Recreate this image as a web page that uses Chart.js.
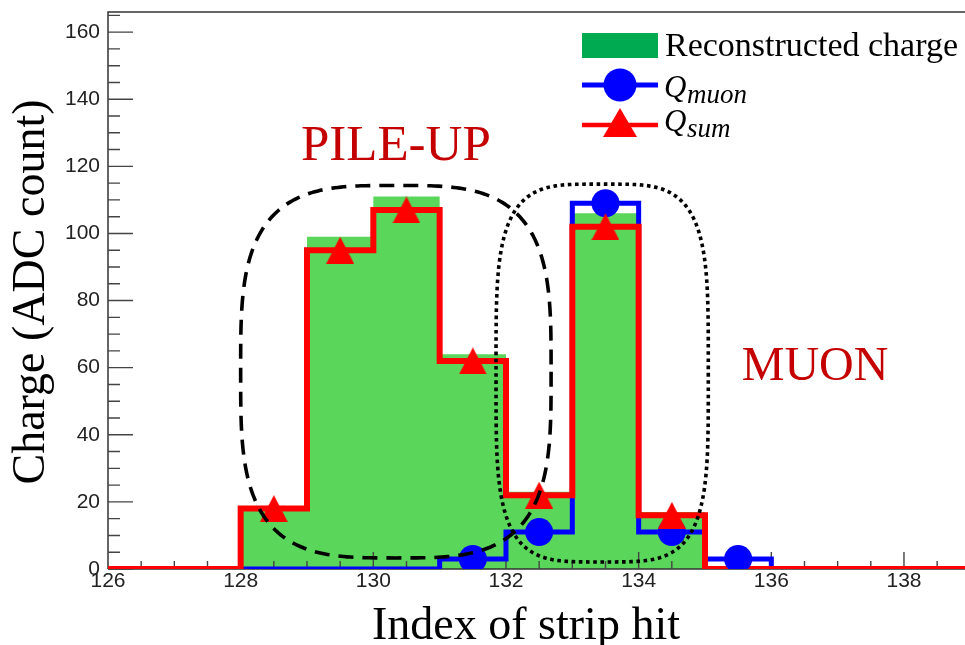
<!DOCTYPE html>
<html><head><meta charset="utf-8">
<script src="https://cdn.jsdelivr.net/npm/chart.js@4.4.0/dist/chart.umd.min.js"></script>
<style>html,body{margin:0;padding:0;background:#fff;overflow:hidden;}#wrap{width:965px;height:645px;}</style>
</head><body><div id="wrap"><canvas id="c" width="965" height="645"></canvas></div>
<script>
// ---- data ----
const binEdges   = [126,127,128,129,130,131,132,133,134,135,136,137,138,139];
const recoCharge = [0,0,18,99,111,64,23,106,17,0,0,0,0];
const qMuon      = [0,0,0,0,0,3,11,109,11,3,0,0,0];
const qSum       = [0,0,18,95,107,62,22,102,16,0,0,0,0];
const xTickValues = [126,128,130,132,134,136,138];
const yTickValues = [0,20,40,60,80,100,120,140,160];
const legendLabels = ['Reconstructed charge', 'Q', 'muon', 'Q', 'sum'];
const xTitle = 'Index of strip hit';
const yTitle = 'Charge (ADC count)';
const regionLabels = ['PILE-UP', 'MUON'];

// ---- helpers ----
function stepPoints(vals){
  return binEdges.map((e,i)=>({x:e, y: i<vals.length ? vals[i] : 0}));
}
function markerPoints(vals){
  const out=[];
  vals.forEach((v,i)=>{ if(v>0) out.push({x:binEdges[i]+0.5, y:v}); });
  return out;
}
function makeTriangle(w,h,color){
  const c=document.createElement('canvas'); c.width=w; c.height=h;
  const g=c.getContext('2d'); g.fillStyle=color; g.beginPath();
  g.moveTo(w/2,0); g.lineTo(w,h); g.lineTo(0,h); g.closePath(); g.fill();
  return c;
}
const GREEN='#5ad65a', GREEN_LEG='#00aa50', BLUE='#0000ff', RED='#ff0000', DARKRED='#c40000';
const triPlot = makeTriangle(28,27,RED);

// annotation geometry (data units)
const dashedShape = {cx:130.34, cy:58.8, a:2.34, b:55.5, n:3.4};
const dottedShape = {cx:133.45, cy:58.4, a:1.60, b:56.3, n:4.0};
const pileupPos = {x:130.34, y:121.8};
const muonPos   = {x:136.66, y:56.2};

function superEllipse(ctx, xs, ys, s){
  const cx=xs.getPixelForValue(s.cx), cy=ys.getPixelForValue(s.cy);
  const a=xs.getPixelForValue(s.cx+s.a)-cx, b=cy-ys.getPixelForValue(s.cy+s.b);
  ctx.beginPath();
  const N=400;
  for(let k=0;k<=N;k++){
    const t=k/N*Math.PI*2, c=Math.cos(t), sn=Math.sin(t);
    const x=cx+a*Math.sign(c)*Math.pow(Math.abs(c),2/s.n);
    const y=cy+b*Math.sign(sn)*Math.pow(Math.abs(sn),2/s.n);
    if(k===0) ctx.moveTo(x,y); else ctx.lineTo(x,y);
  }
  ctx.closePath();
}

const rootPlugin = {
  id:'rootStyle',
  afterDatasetDraw(chart,args){
    if(args.index!==0) return;
    const ctx=chart.ctx, xs=chart.scales.x, ys=chart.scales.y, ca=chart.chartArea;
    ctx.save();
    ctx.strokeStyle='#333'; ctx.lineWidth=1.5;
    ctx.beginPath();
    ctx.moveTo(ca.left, ca.bottom); ctx.lineTo(ca.left, ca.top); ctx.lineTo(ca.right, ca.top);
    ctx.moveTo(ca.left, ca.bottom); ctx.lineTo(ca.right, ca.bottom);
    ctx.stroke();
    ctx.strokeStyle='#444'; ctx.lineWidth=1.4;
    ctx.beginPath();
    for(let i=0;i<yTickValues.length;i++){
      const v=yTickValues[i];
      const p=ys.getPixelForValue(v);
      ctx.moveTo(ca.left,p); ctx.lineTo(ca.left+25,p);
      const step=(yTickValues[1]-yTickValues[0])/4;
      for(let m=1;m<4;m++){ const mv=v+m*step; if(mv>ys.max) break; const mp=ys.getPixelForValue(mv); ctx.moveTo(ca.left,mp); ctx.lineTo(ca.left+12,mp);}
    }
    for(let i=0;i<xTickValues.length;i++){
      const v=xTickValues[i];
      const p=xs.getPixelForValue(v);
      if(i>0){ ctx.moveTo(p,ca.bottom); ctx.lineTo(p,ca.bottom-17); }
      const step=(xTickValues[1]-xTickValues[0])/4;
      for(let m=1;m<4;m++){ const mv=v+m*step; if(mv>xs.max) break; const mp=xs.getPixelForValue(mv); ctx.moveTo(mp,ca.bottom); ctx.lineTo(mp,ca.bottom-8);}
    }
    ctx.stroke();
    ctx.restore();
  },
  afterDatasetsDraw(chart){
    const ctx=chart.ctx, xs=chart.scales.x, ys=chart.scales.y;
    ctx.save();
    ctx.strokeStyle='#000'; ctx.lineWidth=3.6; ctx.lineCap='butt';
    ctx.setLineDash([15,9]);
    superEllipse(ctx,xs,ys,dashedShape); ctx.stroke();
    ctx.setLineDash([3.6,3.6]);
    superEllipse(ctx,xs,ys,dottedShape); ctx.stroke();
    ctx.setLineDash([]);
    ctx.fillStyle=DARKRED; ctx.textAlign='center'; ctx.textBaseline='alphabetic';
    ctx.font='51px "Liberation Serif"';
    ctx.fillText(regionLabels[0], xs.getPixelForValue(pileupPos.x), ys.getPixelForValue(pileupPos.y));
    ctx.font='48px "Liberation Serif"';
    ctx.fillText(regionLabels[1], xs.getPixelForValue(muonPos.x), ys.getPixelForValue(muonPos.y));
    ctx.restore();
  },
  afterDraw(chart){
    const ctx=chart.ctx, xs=chart.scales.x, ca=chart.chartArea;
    ctx.save();
    ctx.fillStyle='#222'; ctx.textAlign='center'; ctx.textBaseline='top';
    ctx.font='21px "Liberation Sans"';
    xTickValues.forEach(v=>ctx.fillText(String(v), xs.getPixelForValue(v), ca.bottom+2));
    ctx.fillStyle='#000'; ctx.textAlign='center'; ctx.textBaseline='alphabetic';
    ctx.font='46px "Liberation Serif"';
    ctx.fillText(xTitle, 526, 639);
    ctx.translate(44, 292); ctx.rotate(-Math.PI/2);
    ctx.fillText(yTitle, 0, 0);
    ctx.restore();
    // legend
    ctx.save();
    ctx.fillStyle=GREEN_LEG; ctx.fillRect(582,33,76,25);
    ctx.fillStyle='#000'; ctx.textAlign='left'; ctx.textBaseline='alphabetic';
    ctx.font='34px "Liberation Serif"';
    ctx.fillText(legendLabels[0], 665, 56);
    ctx.strokeStyle=BLUE; ctx.lineWidth=5;
    ctx.beginPath(); ctx.moveTo(582,85); ctx.lineTo(658,85); ctx.stroke();
    ctx.fillStyle=BLUE; ctx.beginPath(); ctx.arc(620,85,16.5,0,Math.PI*2); ctx.fill();
    ctx.strokeStyle=RED; ctx.lineWidth=4.5;
    ctx.beginPath(); ctx.moveTo(582,125); ctx.lineTo(658,125); ctx.stroke();
    ctx.drawImage(makeTriangle(34,29,RED), 603, 108);
    ctx.fillStyle='#000';
    ctx.font='italic 31px "Liberation Serif"';
    ctx.fillText(legendLabels[1], 664, 97);
    ctx.fillText(legendLabels[3], 664, 131);
    ctx.font='italic 27px "Liberation Serif"';
    ctx.fillText(legendLabels[2], 687, 103);
    ctx.fillText(legendLabels[4], 687, 137);
    ctx.restore();
  }
};

const chart = new Chart(document.getElementById('c'), {
  type:'line',
  data:{ datasets:[
    {label:'Reconstructed charge', data:stepPoints(recoCharge), stepped:true, fill:'origin',
     backgroundColor:GREEN, borderColor:'rgba(0,0,0,0)', borderWidth:0, pointRadius:0, order:5},
    {label:'Q_muon line', data:stepPoints(qMuon), stepped:true, fill:false,
     borderColor:BLUE, borderWidth:5, pointRadius:0, order:4},
    {label:'Q_sum line', data:stepPoints(qSum), stepped:true, fill:false,
     borderColor:RED, borderWidth:6, pointRadius:0, order:3},
    {type:'scatter', label:'Q_muon', data:markerPoints(qMuon), showLine:false,
     pointStyle:'circle', pointRadius:14, backgroundColor:BLUE, borderWidth:0, order:2},
    {type:'scatter', label:'Q_sum', data:markerPoints(qSum), showLine:false,
     pointStyle:triPlot, pointRadius:14, backgroundColor:RED, borderWidth:0, order:1}
  ]},
  options:{
    responsive:false, animation:false, devicePixelRatio:1,
    layout:{autoPadding:false, padding:{left:0,top:12,right:0,bottom:0}},
    plugins:{legend:{display:false}, tooltip:{enabled:false}},
    scales:{
      x:{type:'linear', min:126, max:138.92,
        grid:{display:false, drawTicks:false}, border:{display:false},
        afterBuildTicks:(s)=>{ s.ticks=xTickValues.map(v=>({value:v})); },
        afterFit:(s)=>{ s.height=76; s.paddingLeft=0; s.paddingRight=0; s.paddingTop=0; s.paddingBottom=0; },
        ticks:{display:false}
      },
      y:{type:'linear', min:0, max:166,
        grid:{display:false, drawTicks:false}, border:{display:false},
        afterBuildTicks:(s)=>{ s.ticks=yTickValues.map(v=>({value:v})); },
        afterFit:(s)=>{ s.width=108; s.paddingLeft=0; s.paddingRight=0; s.paddingTop=0; s.paddingBottom=0; },
        ticks:{padding:8, autoSkip:false, color:'#222', font:{family:'"Liberation Sans"', size:21}}
      }
    }
  },
  plugins:[rootPlugin]
});
</script>
</body></html>
